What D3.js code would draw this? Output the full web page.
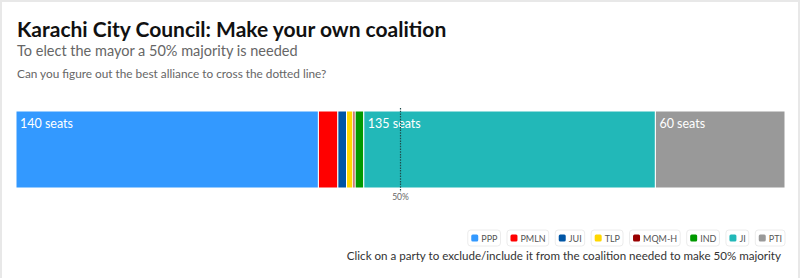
<!DOCTYPE html>
<html>
<head>
<meta charset="utf-8">
<script src="https://cdn.jsdelivr.net/npm/d3@7"></script>
<style>
  body { margin: 0; background: #fff; font-family: Lato, "Noto Sans", sans-serif; }
  svg text { font-family: Lato, "Noto Sans", sans-serif; }
</style>
</head>
<body>
<div id="chart"></div>
<script>
// seats per party, left to right
const parties = ["PPP", "PMLN", "JUI", "TLP", "MQM-H", "IND", "JI", "PTI"];
const seats = [140, 9, 4, 3, 1, 4, 135, 60];
const partyColors = ["#3399ff", "#ff0000", "#0055a5", "#ffd700", "#990000", "#009900", "#22b8b8", "#999999"];
const majorityLabel = "50%";

const width = 800, height = 278;
const margin = { LEFT: 16, RIGHT: 15, TOP: 111, BOTTOM: 90 };
const innerW = width - margin.LEFT - margin.RIGHT;
const barH = 77;

const svg = d3.select("#chart").append("svg")
  .attr("width", width)
  .attr("height", height);

// outer frame
svg.append("rect")
  .attr("x", 1).attr("y", 1)
  .attr("width", width - 2).attr("height", height + 20)
  .attr("fill", "#fff")
  .attr("stroke", "#e8e8e8")
  .attr("stroke-width", 2);

// titles
svg.append("text")
  .attr("x", 17).attr("y", 37)
  .attr("font-size", "21px")
  .attr("font-weight", "bold")
  .attr("fill", "#111")
  .text("Karachi City Council: Make your own coalition");
svg.append("text")
  .attr("x", 17).attr("y", 56)
  .attr("font-size", "14.5px")
  .attr("fill", "#666")
  .text("To elect the mayor a 50% majority is needed");
svg.append("text")
  .attr("x", 17).attr("y", 78)
  .attr("font-size", "11.8px")
  .attr("fill", "#666")
  .text("Can you figure out the best alliance to cross the dotted line?");

const total = d3.sum(seats);
const x = d3.scaleLinear().domain([0, total]).range([0, innerW]);

const stacked = [];
let acc = 0;
parties.forEach((p, i) => {
  stacked.push({ party: p, seats: seats[i], color: partyColors[i], x0: acc, x1: acc + seats[i] });
  acc += seats[i];
});

const g = svg.append("g")
  .attr("transform", `translate(${margin.LEFT}, ${margin.TOP})`);

g.selectAll("rect.seg")
  .data(stacked)
  .enter().append("rect")
  .attr("class", "seg")
  .attr("x", d => x(d.x0))
  .attr("y", 0)
  .attr("width", d => x(d.x1) - x(d.x0))
  .attr("height", barH)
  .attr("fill", d => d.color)
  .attr("stroke", "#fff")
  .attr("stroke-width", 1);

// seat labels on wide segments
g.selectAll("text.lbl")
  .data(stacked.filter(d => x(d.seats) > 60))
  .enter().append("text")
  .attr("class", "lbl")
  .attr("x", d => x(d.x0) + 4)
  .attr("y", 17)
  .attr("font-size", "12.5px")
  .attr("fill", "#fff")
  .text(d => d.seats + " seats");

// 50% majority line
const mid = x(total / 2);
g.append("line")
  .attr("x1", mid).attr("x2", mid)
  .attr("y1", -3).attr("y2", barH + 4)
  .attr("stroke", "#1d4d4d")
  .attr("stroke-width", 1.2)
  .attr("stroke-dasharray", "1.5,1.2");
g.append("text")
  .attr("x", mid).attr("y", barH + 12)
  .attr("text-anchor", "middle")
  .attr("font-size", "8.5px")
  .attr("fill", "#666")
  .text(majorityLabel);

// legend, right aligned
const legend = svg.append("g");
let lx = 0;
parties.forEach((p, i) => {
  const item = legend.append("g");
  item.append("rect")
    .attr("class", "box")
    .attr("y", 0).attr("height", 16)
    .attr("rx", 3)
    .attr("fill", "#fff")
    .attr("stroke", "#ececec");
  item.append("rect")
    .attr("x", 3.5).attr("y", 4.5)
    .attr("width", 7).attr("height", 7)
    .attr("rx", 1.5)
    .attr("fill", partyColors[i]);
  const t = item.append("text")
    .attr("x", 13.5).attr("y", 11.5)
    .attr("font-size", "9px")
    .attr("fill", "#555")
    .text(p);
  const w = 13.5 + t.node().getComputedTextLength() + 3;
  item.select(".box").attr("width", w);
  item.attr("transform", `translate(${lx}, 0)`);
  lx += w + 6.5;
});
legend.attr("transform", `translate(${785 - (lx - 6.5)}, 230)`);

svg.append("text")
  .attr("x", 781).attr("y", 260)
  .attr("text-anchor", "end")
  .attr("font-size", "11.6px")
  .attr("fill", "#333")
  .text("Click on a party to exclude/include it from the coalition needed to make 50% majority");
</script>
</body>
</html>
